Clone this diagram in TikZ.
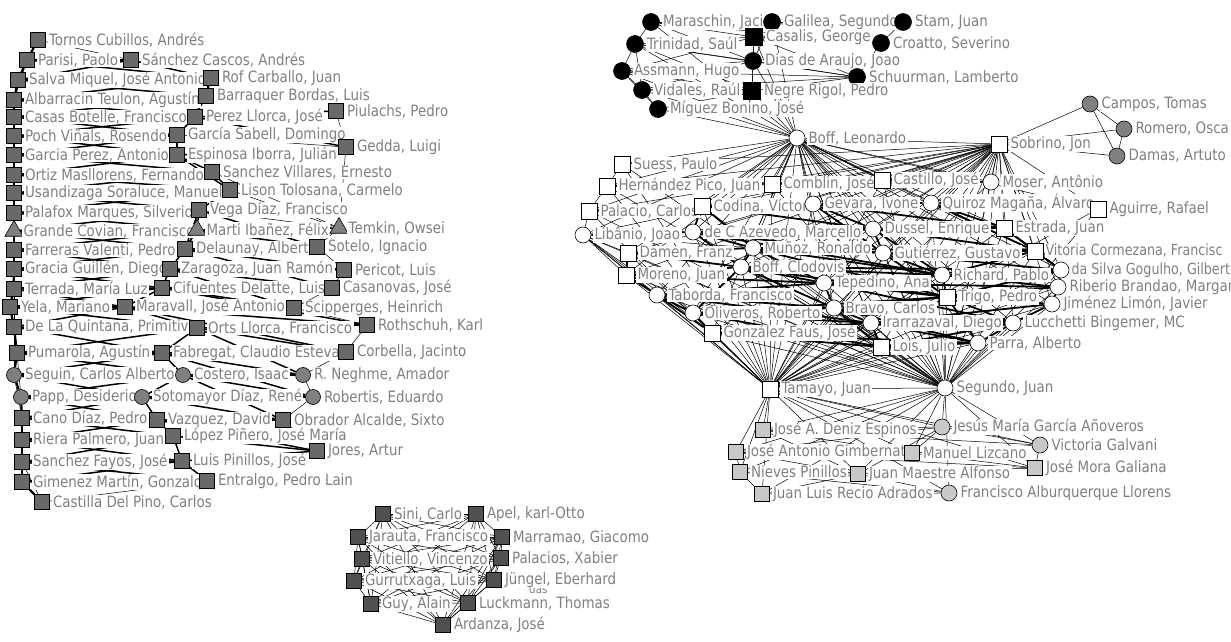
\documentclass[tikz,border=0pt]{standalone}
\usepackage{fontspec}
\newfontfamily\labfam[FakeStretch=0.86]{DejaVu Sans}
\newfontfamily\labfamn[FakeStretch=0.83]{DejaVu Sans}
\usetikzlibrary{shapes.geometric,backgrounds}
\pgfdeclarelayer{bottom}
\pgfsetlayers{bottom,background,main}
\definecolor{txtc}{RGB}{128,128,128}
\definecolor{lgray}{RGB}{105,105,105}
\definecolor{cgray}{RGB}{128,128,128}
\definecolor{dgray}{RGB}{80,80,80}
\definecolor{pgray}{RGB}{200,200,200}
\newcommand\lbf{\labfam\fontsize{15.6}{16}\selectfont}
\newcommand\lbn{\labfamn\fontsize{15.3}{16}\selectfont}
\newcommand\pn[4]{\node[#1,label={[lab]east:{#4}}] (#2) at (#3) {};}
\tikzset{
 base/.style={draw=black, line width=0.6pt, inner sep=0pt},
 sqL/.style={base, rectangle, minimum size=15pt, fill=lgray},
 ciL/.style={base, circle, minimum size=15pt, fill=cgray},
 trL/.style={base, regular polygon, regular polygon sides=3, minimum size=21pt, fill=cgray},
 sqB/.style={base, rectangle, minimum size=17pt, fill=black},
 ciB/.style={base, circle, minimum size=17pt, fill=black},
 sqW/.style={base, rectangle, minimum size=16pt, fill=white},
 ciW/.style={base, circle, minimum size=16pt, fill=white},
 ciG/.style={base, circle, minimum size=16pt, fill=cgray},
 sqP/.style={base, rectangle, minimum size=15pt, fill=pgray},
 ciP/.style={base, circle, minimum size=16pt, fill=pgray},
 sqD/.style={base, rectangle, minimum size=15pt, fill=dgray},
 lab/.style={fill=white, text=txtc, inner xsep=1.5pt, inner ysep=0.5pt, font=\lbf, label distance=1.5pt},
 edge/.style={line width=0.5pt, draw=black},
 medge/.style={line width=1.5pt, draw=black},
 wedge/.style={line width=1.8pt, draw=black},
 bedge/.style={line width=2.2pt, draw=black},
}
\begin{document}
\begin{tikzpicture}[x=1pt,y=-1pt]
\begin{pgfonlayer}{bottom}
\fill[white] (0,0) rectangle (1231,642);
\end{pgfonlayer}
\useasboundingbox (0,0) rectangle (1231,642);
% ---------------- left cluster
\pn{sqL}{tornos}{38,40}{Tornos Cubillos, Andrés}
\pn{sqL}{parisi}{27,60}{Parisi, Paolo}
\pn{sqL}{sanchezc}{131,60}{Sánchez Cascos, Andrés}
\pn{sqL}{salva}{18,80}{Salva Miquel, José Antonio}
\pn{sqL}{rof}{211,78}{Rof Carballo, Juan}
\pn{sqL}{albarracin}{14,100}{Albarracin Teulon, Agustín}
\pn{sqL}{barraquer}{206,96}{Barraquer Bordas, Luis}
\pn{sqL}{casas}{14,117}{Casas Botelle, Francisco}
\pn{sqL}{perezll}{195,117}{Perez Llorca, José}
\pn{sqL}{piulachs}{336,111}{Piulachs, Pedro}
\pn{sqL}{poch}{14,136}{Poch Viñals, Rosendo}
\pn{sqL}{garciasab}{177,135}{García Sabell, Domingo}
\pn{sqL}{garciaper}{14,155}{Garcia Perez, Antonio}
\pn{sqL}{espinosa}{177,155}{Espinosa Iborra, Julián}
\pn{sqL}{gedda}{346,147}{Gedda, Luigi}
\pn{sqL}{ortiz}{14,175}{Ortiz Masllorens, Fernando}
\pn{sqL}{sanchezvil}{212,172}{Sanchez Villares, Ernesto}
\pn{sqL}{usandizaga}{14,193}{Usandizaga Soraluce, Manuel}
\pn{sqL}{lison}{230,190}{Lison Tolosana, Carmelo}
\pn{sqL}{palafox}{14,213}{Palafox Marques, Silverio}
\pn{sqL}{vega}{199,210}{Vega Díaz, Francisco}
\pn{trL}{grande}{14,231}{Grande Covian, Francisco}
\pn{trL}{marti}{197,230}{Marti Ibañez, Félix}
\pn{trL}{temkin}{339,228}{Temkin, Owsei}
\pn{sqL}{farreras}{14,250}{Farreras Valenti, Pedro}
\pn{sqL}{delaunay}{185,249}{Delaunay, Albert}
\pn{sqL}{sotelo}{317,247}{Sotelo, Ignacio}
\pn{sqL}{gracia}{14,269}{Gracia Guillén, Diego}
\pn{sqL}{zaragoza}{170,269}{Zaragoza, Juan Ramón}
\pn{sqL}{pericot}{344,270}{Pericot, Luis}
\pn{sqL}{terrada}{14,289}{Terrada, María Luz}
\pn{sqL}{cifuentes}{162,288}{Cifuentes Delatte, Luis}
\pn{sqL}{casanovas}{332,288}{Casanovas, José}
\pn{sqL}{yela}{10,307}{Yela, Mariano}
\pn{sqL}{maravall}{125,307}{Maravall, José Antonio}
\pn{sqL}{scipperges}{294,308}{Scipperges, Heinrich}
\pn{sqL}{quintana}{14,327}{De La Quintana, Primitivo}
\pn{sqL}{orts}{197,328}{Orts Llorca, Francisco}
\pn{sqL}{rothschuh}{367,325}{Rothschuh, Karl}
\pn{sqL}{pumarola}{17,353}{Pumarola, Agustín}
\pn{sqL}{fabregat}{162,353}{Fabregat, Claudio Esteva}
\pn{sqL}{corbella}{346,352}{Corbella, Jacinto}
\pn{ciL}{seguin}{14,375}{Seguin, Carlos Alberto}
\pn{ciL}{costero}{183,375}{Costero, Isaac}
\pn{ciL}{neghme}{303,375}{R. Neghme, Amador}
\pn{ciL}{papp}{21,397}{Papp, Desiderio}
\pn{ciL}{sotomayor}{142,397}{Sotomayor Díaz, René}
\pn{ciL}{robertis}{313,397}{Robertis, Eduardo}
\pn{sqL}{cano}{22,418}{Cano Díaz, Pedro}
\pn{sqL}{vazquez}{157,420}{Vazquez, David}
\pn{sqL}{obrador}{283,420}{Obrador Alcalde, Sixto}
\pn{sqL}{riera}{22,440}{Riera Palmero, Juan}
\pn{sqL}{lopez}{173,436}{López Piñero, José María}
\pn{sqL}{jores}{317,451}{Jores, Artur}
\pn{sqL}{fayos}{22,462}{Sanchez Fayos, José}
\pn{sqL}{pinillosl}{182,461}{Luis Pinillos, José}
\pn{sqL}{gimenez}{22,482}{Gimenez Martín, Gonzalo}
\pn{sqL}{entralgo}{207,481}{Entralgo, Pedro Lain}
\pn{sqL}{castilla}{42,502}{Castilla Del Pino, Carlos}
% ---------------- top black cluster
\pn{ciB}{maraschin}{651,22}{Maraschin, Jaci}
\pn{ciB}{galilea}{772,22}{Galilea, Segundo}
\pn{ciB}{stam}{903,22}{Stam, Juan}
\pn{ciB}{trinidad}{635,44}{Trinidad, Saúl}
\pn{sqB}{casalis}{754,37}{Casalis, George}
\pn{ciB}{croatto}{881,43}{Croatto, Severino}
\pn{ciB}{dias}{753,61}{Dias de Araujo, Joao}
\pn{ciB}{assmann}{622,71}{Assmann, Hugo}
\pn{ciB}{schuurman}{857,77}{Schuurman, Lamberto}
\pn{ciB}{vidales}{642,90}{Vidales, Raúl}
\pn{sqB}{negre}{752,91}{Negre Rigol, Pedro}
\pn{ciB}{miguez}{658,109}{Míguez Bonino, José}
% ---------------- white cluster
\pn{ciW}{boffl}{797,138}{Boff, Leonardo}
\pn{sqW}{sobrino}{999,144}{Sobrino, Jon}
\pn{sqW}{suess}{622,164}{Suess, Paulo}
\pn{sqW}{hernandez}{607,186}{Hernández Pico, Juan}
\pn{sqW}{comblin}{772,184}{Comblin, José}
\pn{sqW}{castillo}{882,180}{Castillo, José}
\pn{ciW}{moser}{991,182}{Moser, Antônio}
\pn{sqW}{palacio}{589,211}{Palacio, Carlos}
\pn{sqW}{codina}{702,206}{Codina, Víctor}
\pn{ciW}{gevara}{813,204}{Gevara, Ivone}
\pn{ciW}{quiroz}{931,203}{Quiroz Magaña, Álvaro}
\pn{sqW}{aguirre}{1098,209}{Aguirre, Rafael}
\pn{ciW}{libanio}{583,235}{Libânio, Joao}
\pn{ciW}{azevedo}{693,232}{de C Azevedo, Marcello}
\pn{ciW}{dussel}{873,229}{Dussel, Enrique}
\pn{sqW}{estrada}{1004,228}{Estrada, Juan}
\pn{sqW}{damen}{628,253}{Damen, Franz}
\pn{ciW}{munoz}{753,248}{Muñoz, Ronaldo}
\pn{ciW}{gutierrez}{883,253}{Gutiérrez, Gustavo}
\node[sqW,label={[lab,font=\lbn,inner xsep=0.5pt]east:{Vitoria Cormezana, Francisc}}] (vitoria) at (1035,251) {};
\pn{sqW}{moreno}{626,275}{Moreno, Juan}
\pn{ciW}{clodovis}{741,267}{Boff, Clodovis}
\pn{ciW}{richard}{942,275}{Richard, Pablo}
\node[ciW,label={[lab,font=\lbn,inner xsep=0.5pt]east:{da Silva Gogulho, Gilbert}}] (silva) at (1061,270) {};
\pn{ciW}{tepedino}{824,283}{Tepedino, Ana}
\pn{ciW}{riberio}{1058,287}{Riberio Brandao, Margar}
\pn{ciW}{taborda}{657,295}{Taborda, Francisco}
\pn{sqW}{trigo}{947,297}{Trigo, Pedro}
\pn{ciW}{jimenez}{1052,304}{Jiménez Limón, Javier}
\pn{ciW}{oliveros}{693,313}{Oliveros, Roberto}
\pn{ciW}{bravo}{834,308}{Bravo, Carlos}
\pn{ciW}{irarrazaval}{871,323}{Irarrazaval, Diego}
\pn{ciW}{lucchetti}{1013,323}{Lucchetti Bingemer, MC}
\pn{sqW}{gonzalez}{712,333}{González Faus, José}
\pn{sqW}{lois}{881,347}{Lois, Julio}
\pn{ciW}{parra}{978,343}{Parra, Alberto}
\pn{sqW}{tamayo}{770,389}{Tamayo, Juan}
\pn{ciW}{segundo}{945,388}{Segundo, Juan}
% ---------------- small right cluster
\pn{ciG}{campos}{1090,104}{Campos, Tomas}
\pn{ciG}{romero}{1124,129}{Romero, Osca}
\pn{ciG}{damas}{1117,156}{Damas, Artuto}
% ---------------- pale cluster
\pn{sqP}{deniz}{763,430}{José A. Deniz Espinos}
\pn{ciP}{jesus}{942,427}{Jesús María García Añoveros}
\pn{ciP}{victoria}{1040,445}{Victoria Galvani}
\pn{sqP}{gimbernat}{736,452}{José Antonio Gimbernat}
\pn{sqP}{lizcano}{912,453}{Manuel Lizcano}
\pn{sqP}{mora}{1035,468}{José Mora Galiana}
\pn{sqP}{nieves}{740,472}{Nieves Pinillos}
\pn{sqP}{maestre}{858,474}{Juan Maestre Alfonso}
\pn{sqP}{recio}{762,494}{Juan Luis Recio Adrados}
\pn{ciP}{alburquerque}{949,493}{Francisco Alburquerque Llorens}
% ---------------- dark cluster
\pn{sqD}{sini}{383,514}{Sini, Carlo}
\pn{sqD}{apel}{476,514}{Apel, karl-Otto}
\pn{sqD}{jarauta}{358,537}{Jarauta, Francisco}
\pn{sqD}{marramao}{502,537}{Marramao, Giacomo}
\pn{sqD}{vitiello}{362,559}{Vitiello, Vincenzo}
\pn{sqD}{palacios}{501,558}{Palacios, Xabier}
\pn{sqD}{gurrutxaga}{354,581}{Gurrutxaga, Luis}
\node[text=txtc, font=\labfam\fontsize{12}{13}\selectfont, inner sep=0pt, anchor=west] (dastxt) at (529,589) {das};
\pn{sqD}{jungel}{494,580}{Jüngel, Eberhard}
\pn{sqD}{guy}{371,604}{Guy, Alain}
\pn{sqD}{luckmann}{468,603}{Luckmann, Thomas}
\pn{sqD}{ardanza}{443,625}{Ardanza, José}
% ================= edges
\begin{scope}[on background layer]
% left cluster
\foreach \a/\b in {tornos/parisi,parisi/salva,salva/albarracin,albarracin/casas,casas/poch,poch/garciaper,garciaper/ortiz,ortiz/usandizaga,usandizaga/palafox,palafox/grande,grande/farreras,farreras/gracia,gracia/terrada,terrada/yela,yela/quintana,quintana/pumarola,pumarola/seguin,seguin/papp,papp/cano,cano/riera,riera/fayos,fayos/gimenez,gimenez/castilla}
 \draw[bedge] (\a)--(\b);
\foreach \a/\b in {
 parisi/sanchezc,salva/rof,albarracin/barraquer,casas/perezll,perezll/piulachs,poch/garciasab,garciaper/espinosa,espinosa/gedda,ortiz/sanchezvil,usandizaga/lison,palafox/vega,grande/marti,marti/temkin,farreras/delaunay,delaunay/sotelo,gracia/zaragoza,zaragoza/pericot,terrada/cifuentes,cifuentes/casanovas,yela/maravall,maravall/scipperges,quintana/orts,orts/rothschuh,pumarola/fabregat,fabregat/corbella,seguin/costero,costero/neghme,papp/sotomayor,sotomayor/robertis,cano/vazquez,vazquez/obrador,riera/lopez,fayos/pinillosl,gimenez/entralgo,pinillosl/jores,lopez/jores,
 sanchezc/rof,rof/barraquer,barraquer/perezll,perezll/garciasab,garciasab/espinosa,espinosa/sanchezvil,sanchezvil/lison,lison/vega,vega/marti,marti/delaunay,delaunay/zaragoza,zaragoza/cifuentes,cifuentes/maravall,maravall/orts,orts/fabregat,fabregat/costero,costero/sotomayor,sotomayor/vazquez,vazquez/lopez,lopez/pinillosl,pinillosl/entralgo,
 parisi/rof,salva/barraquer,albarracin/perezll,casas/garciasab,poch/espinosa,garciaper/sanchezvil,ortiz/lison,usandizaga/vega,palafox/marti,grande/delaunay,farreras/zaragoza,gracia/cifuentes,terrada/maravall,yela/orts,quintana/fabregat,pumarola/costero,seguin/sotomayor,papp/vazquez,cano/lopez,riera/pinillosl,fayos/entralgo,
 salva/sanchezc,albarracin/rof,casas/barraquer,poch/perezll,garciaper/garciasab,ortiz/espinosa,usandizaga/sanchezvil,palafox/lison,grande/vega,farreras/marti,gracia/delaunay,terrada/zaragoza,yela/cifuentes,quintana/maravall,pumarola/orts,seguin/fabregat,papp/costero,cano/sotomayor,riera/vazquez,fayos/lopez,gimenez/pinillosl,
 marti/delaunay,vega/sotelo,delaunay/casanovas,zaragoza/scipperges,cifuentes/rothschuh,maravall/corbella,orts/neghme,fabregat/robertis,costero/obrador,
 rof/perezll,perezll/gedda,espinosa/lison,vega/delaunay,marti/sotelo,delaunay/pericot,zaragoza/casanovas,cifuentes/scipperges,maravall/rothschuh,orts/corbella,fabregat/neghme,costero/robertis,sotomayor/obrador,vazquez/jores}
 \draw[medge] (\a)--(\b);
\foreach \a/\b in {tornos/sanchezc,
 piulachs/gedda,garciasab/gedda,lison/temkin,gedda/temkin,temkin/sotelo,sotelo/pericot,pericot/casanovas,casanovas/scipperges,scipperges/rothschuh,rothschuh/corbella,corbella/neghme,neghme/robertis,robertis/obrador,obrador/jores,vega/temkin,sanchezvil/temkin,
 castilla/entralgo,
 parisi/albarracin,salva/casas,casas/garciaper,poch/ortiz,garciaper/usandizaga,ortiz/palafox,usandizaga/grande,palafox/farreras,grande/gracia,farreras/terrada,gracia/yela,terrada/quintana,yela/pumarola,quintana/seguin,pumarola/papp,seguin/cano,papp/riera,cano/fayos,riera/gimenez,fayos/castilla}
 \draw[edge] (\a)--(\b);
% top black cluster
\foreach \a/\b in {maraschin/trinidad,trinidad/assmann,assmann/vidales,vidales/miguez,assmann/miguez,maraschin/casalis,trinidad/casalis,assmann/casalis,vidales/negre,casalis/dias,dias/negre,casalis/negre,casalis/stam,casalis/croatto,galilea/stam,galilea/croatto,dias/schuurman,assmann/schuurman,negre/schuurman,casalis/schuurman,galilea/casalis,maraschin/galilea,trinidad/dias,vidales/dias,croatto/stam,maraschin/dias,assmann/negre,trinidad/negre,miguez/negre,croatto/schuurman,galilea/dias,trinidad/vidales,maraschin/croatto,assmann/dias,vidales/schuurman,trinidad/schuurman,
 boffl/negre,boffl/miguez,boffl/vidales,boffl/assmann,boffl/trinidad,boffl/maraschin,boffl/dias,boffl/casalis,boffl/galilea}
 \draw[edge] (\a)--(\b);
% white cluster hubs
\foreach \n in {suess,hernandez,comblin,castillo,moser,palacio,codina,gevara,quiroz,aguirre,libanio,azevedo,dussel,estrada,damen,munoz,gutierrez,vitoria,moreno,clodovis,richard,silva,tepedino,riberio,taborda,trigo,jimenez,oliveros,bravo,irarrazaval,lucchetti,gonzalez,lois,parra}
 {\draw[edge] (boffl)--(\n); \draw[edge] (sobrino)--(\n); \draw[edge] (tamayo)--(\n); \draw[edge] (segundo)--(\n);}
\foreach \n in {deniz,jesus,victoria,gimbernat,lizcano,mora,nieves,maestre,recio,alburquerque}
 {\draw[edge] (tamayo)--(\n); \draw[edge] (segundo)--(\n);}
\foreach \a/\b in {boffl/sobrino,tamayo/segundo,sobrino/campos,sobrino/romero,sobrino/damas,campos/romero,campos/damas,romero/damas,boffl/tamayo,boffl/segundo,sobrino/segundo,sobrino/tamayo,
 deniz/jesus,deniz/lizcano,gimbernat/maestre,gimbernat/mora,nieves/maestre,maestre/mora,maestre/alburquerque,recio/alburquerque,lizcano/victoria,lizcano/mora,jesus/victoria,victoria/mora,gimbernat/nieves,nieves/recio,nieves/alburquerque,deniz/victoria,gimbernat/lizcano,jesus/maestre,deniz/maestre,jesus/lizcano,recio/maestre,gimbernat/jesus}
 \draw[edge] (\a)--(\b);
\foreach \a/\b in {hernandez/comblin,comblin/castillo,castillo/moser,palacio/codina,codina/gevara,gevara/quiroz,libanio/azevedo,azevedo/dussel,dussel/estrada,damen/munoz,munoz/gutierrez,gutierrez/vitoria,moreno/clodovis,clodovis/tepedino,tepedino/richard,richard/silva,taborda/tepedino,taborda/oliveros,oliveros/bravo,bravo/trigo,trigo/riberio,trigo/jimenez,irarrazaval/lucchetti,gonzalez/irarrazaval,gonzalez/lois,lois/parra,bravo/irarrazaval,munoz/clodovis,azevedo/munoz,codina/azevedo,gevara/dussel,quiroz/estrada,dussel/gutierrez,estrada/vitoria,gutierrez/richard,richard/trigo,tepedino/bravo,clodovis/oliveros,moreno/taborda,damen/moreno,vitoria/silva,silva/riberio,riberio/jimenez,jimenez/lucchetti,lucchetti/parra,irarrazaval/lois,irarrazaval/parra,oliveros/gonzalez,taborda/gonzalez,munoz/tepedino,dussel/richard,azevedo/gutierrez,estrada/silva,vitoria/richard,trigo/lucchetti,trigo/parra,bravo/lois,tepedino/trigo,clodovis/bravo,gutierrez/trigo,dussel/vitoria,munoz/richard,clodovis/richard,oliveros/irarrazaval,bravo/lucchetti,
 azevedo/richard,munoz/trigo,clodovis/trigo,tepedino/lucchetti,bravo/parra,codina/dussel,gevara/estrada,azevedo/estrada,munoz/vitoria,clodovis/silva,tepedino/riberio,oliveros/trigo,gonzalez/parra,taborda/bravo,moreno/tepedino,damen/clodovis,gevara/gutierrez,quiroz/vitoria,codina/munoz,azevedo/clodovis,oliveros/lois,taborda/irarrazaval,richard/riberio,gutierrez/silva,trigo/silva,lois/lucchetti,irarrazaval/jimenez}
 \draw[wedge] (\a)--(\b);
\foreach \a/\b in {libanio/damen,libanio/moreno,libanio/taborda,libanio/oliveros,libanio/gonzalez,palacio/libanio,hernandez/palacio,suess/hernandez,libanio/munoz}
 \draw[edge] (\a)--(\b);
\draw[bedge] (quiroz)--(aguirre);
% dark cluster: all pairs
\foreach \a [count=\i] in {sini,apel,jarauta,marramao,vitiello,palacios,gurrutxaga,jungel,guy,luckmann,ardanza}
 {\foreach \b [count=\j] in {sini,apel,jarauta,marramao,vitiello,palacios,gurrutxaga,jungel,guy,luckmann,ardanza}
  {\ifnum\j>\i \draw[edge] (\a)--(\b);\fi}}
\end{scope}
\end{tikzpicture}
\end{document}
